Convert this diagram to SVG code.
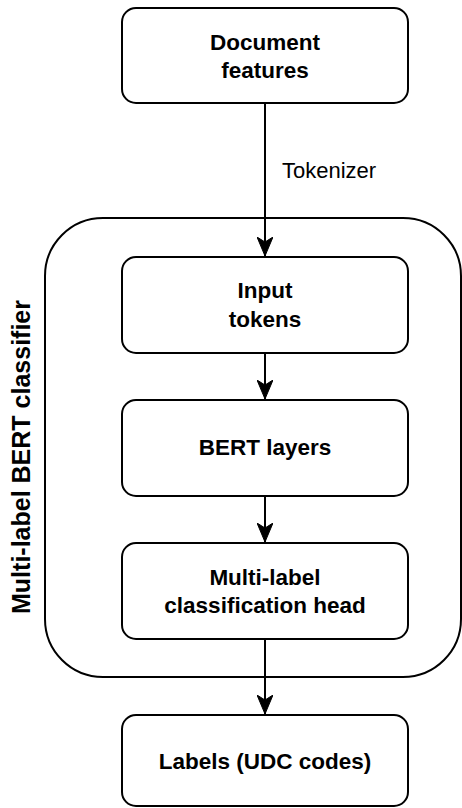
<svg xmlns="http://www.w3.org/2000/svg" width="462" height="808" viewBox="0 0 462 808">
<style>
.box{fill:#ffffff;stroke:#000000;stroke-width:2}
.grp{fill:none;stroke:#000000;stroke-width:2}
.lbl{font-family:"Liberation Sans",Arial,sans-serif;font-size:22.5px;font-weight:bold;fill:#000000;text-anchor:middle}
.edge{fill:none;stroke:#000000;stroke-width:2}
.elbl{font-family:"Liberation Sans",Arial,sans-serif;font-size:22px;fill:#000000}
.glbl{font-family:"Liberation Sans",Arial,sans-serif;font-size:25px;font-weight:bold;fill:#000000;text-anchor:middle}
</style>
<defs>
<marker id="arr" viewBox="0 0 20 16" refX="19" refY="8" markerWidth="20" markerHeight="16" markerUnits="userSpaceOnUse" orient="auto">
<path d="M0,0 L19,8 L0,16 L5,8 Z" fill="#000000" stroke="#000000" stroke-width="1"/>
</marker>
</defs>
<g id="container">
<rect class="grp" x="45" y="218" width="416" height="459" rx="58" ry="58"/>
<text class="glbl" transform="translate(30,457) rotate(-90)">Multi-label BERT classifier</text>
</g>
<g id="doc-features">
<rect class="box" x="122" y="8" width="286" height="95" rx="14" ry="14"/>
<text class="lbl" x="265" y="50">Document</text>
<text class="lbl" x="265" y="78">features</text>
</g>
<g id="input-tokens">
<rect class="box" x="122" y="257" width="286" height="96" rx="14" ry="14"/>
<text class="lbl" x="265" y="298">Input</text>
<text class="lbl" x="265" y="327">tokens</text>
</g>
<g id="bert-layers">
<rect class="box" x="122" y="400" width="286" height="96" rx="14" ry="14"/>
<text class="lbl" x="265" y="455">BERT layers</text>
</g>
<g id="cls-head">
<rect class="box" x="122" y="543" width="286" height="96" rx="14" ry="14"/>
<text class="lbl" x="265" y="585">Multi-label</text>
<text class="lbl" x="265" y="613">classification head</text>
</g>
<g id="labels">
<rect class="box" x="122" y="715" width="286" height="91" rx="14" ry="14"/>
<text class="lbl" x="265" y="769">Labels (UDC codes)</text>
</g>
<g id="connectors">
<path class="edge" d="M265,103 L265,256" marker-end="url(#arr)"/>
<text class="elbl" x="282" y="178">Tokenizer</text>
<path class="edge" d="M265,353 L265,399" marker-end="url(#arr)"/>
<path class="edge" d="M265,496 L265,542" marker-end="url(#arr)"/>
<path class="edge" d="M265,639 L265,714" marker-end="url(#arr)"/>
</g>
</svg>
